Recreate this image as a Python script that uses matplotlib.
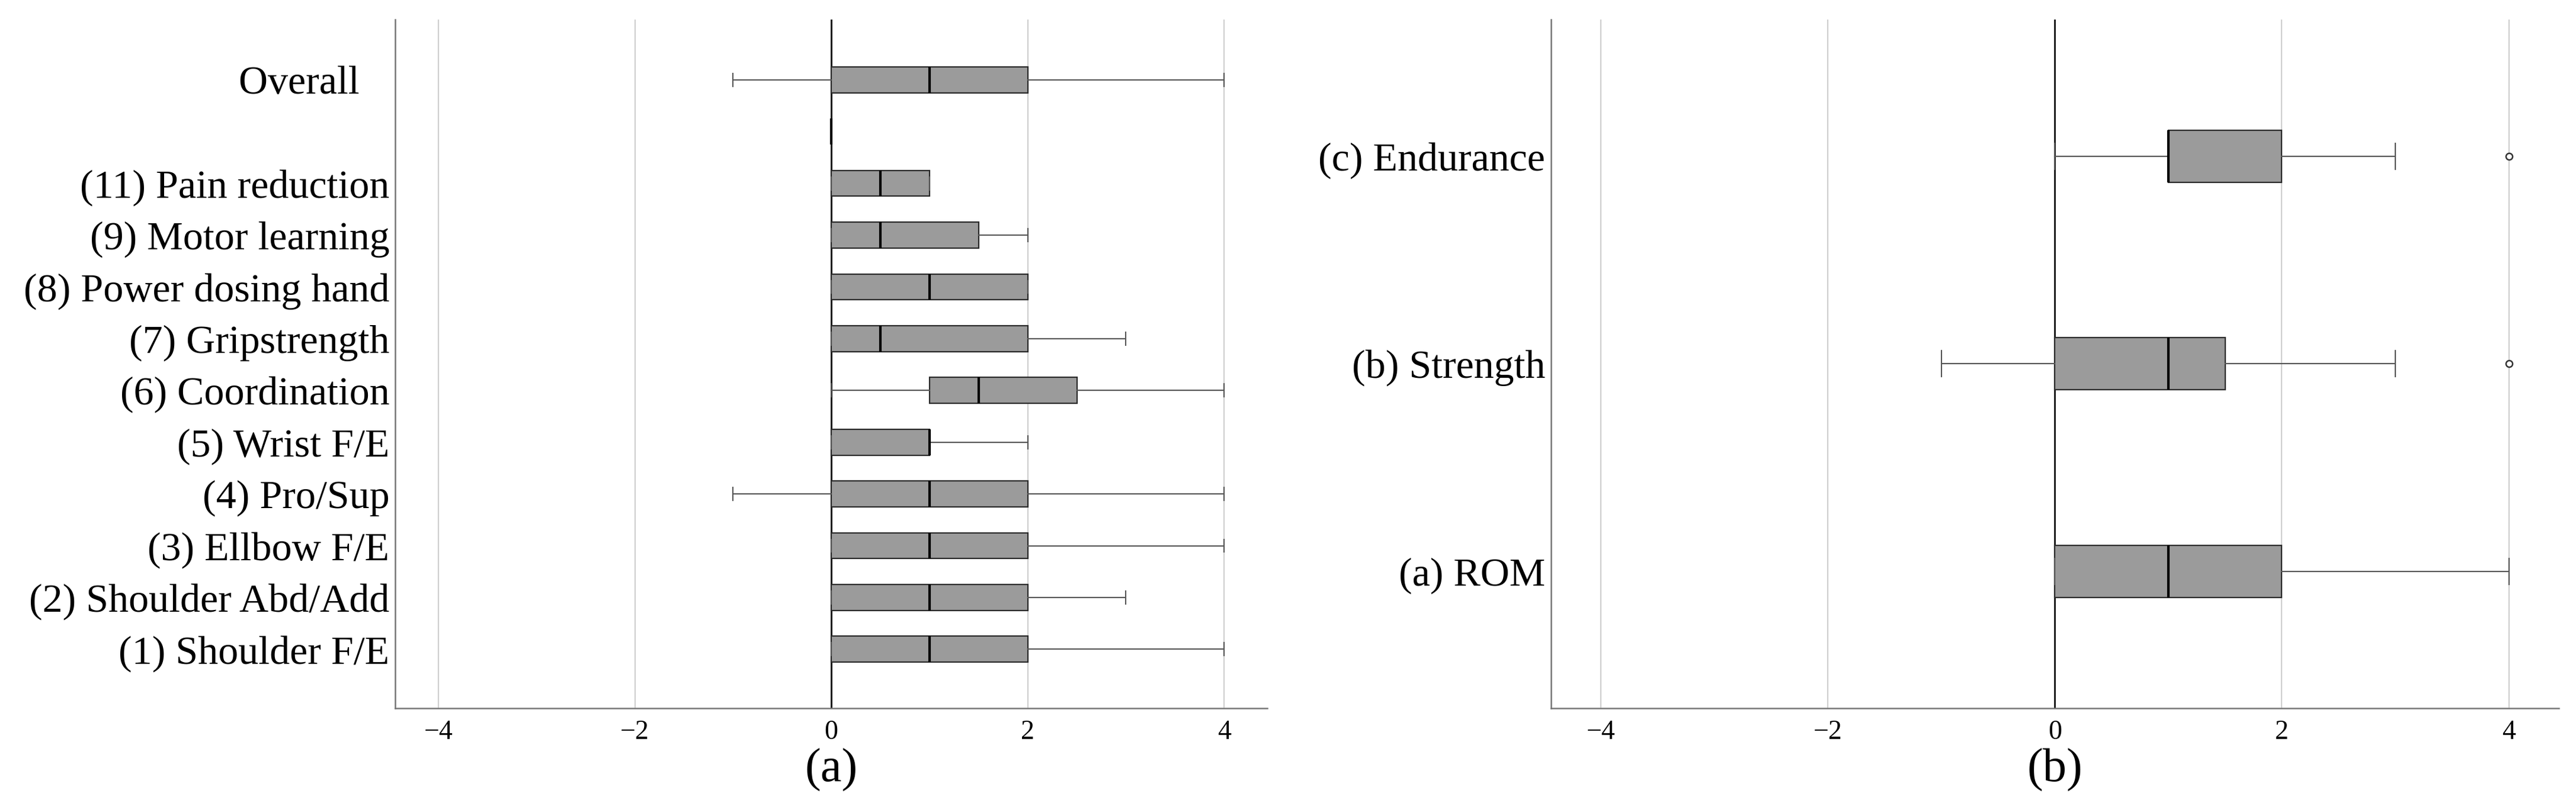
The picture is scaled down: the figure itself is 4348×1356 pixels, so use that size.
import matplotlib
matplotlib.use("Agg")
import matplotlib.pyplot as plt

plt.rcParams['font.family'] = ['Liberation Serif', 'DejaVu Serif']

# panel (a): items, listed bottom to top
items_a = ["(1) Shoulder F/E", "(2) Shoulder Abd/Add", "(3) Ellbow F/E", "(4) Pro/Sup",
           "(5) Wrist F/E", "(6) Coordination", "(7) Gripstrength", "(8) Power dosing hand",
           "(9) Motor learning", "(11) Pain reduction", "", "Overall   "]
lo_a = [0, 0, 0, -1, 0, 0, 0, 0, 0, 0, 0, -1]
q1_a = [0, 0, 0, 0, 0, 1, 0, 0, 0, 0, 0, 0]
med_a = [1, 1, 1, 1, 1, 1.5, 0.5, 1, 0.5, 0.5, 0, 1]
q3_a = [2, 2, 2, 2, 1, 2.5, 2, 2, 1.5, 1, 0, 2]
hi_a = [4, 3, 4, 4, 2, 4, 3, 2, 2, 1, 0, 4]

# panel (b): domains, bottom to top
items_b = ["(a) ROM", "(b) Strength", "(c) Endurance"]
lo_b = [0, -1, 0]
q1_b = [0, 0, 1]
med_b = [1, 1, 1]
q3_b = [2, 1.5, 2]
hi_b = [4, 3, 3]
out_b = [[], [4], [4]]

xticks = [-4, -2, 0, 2, 4]


def make_stats(labels, lo, q1, med, q3, hi, out=None):
    stats = []
    for i in range(len(labels)):
        stats.append({'label': labels[i], 'whislo': lo[i], 'q1': q1[i], 'med': med[i],
                      'q3': q3[i], 'whishi': hi[i], 'fliers': out[i] if out else []})
    return stats


def draw(ax, stats, width, ylim, xlabel):
    ax.set_axisbelow(True)
    ax.grid(axis='x', color='#cfcfcf', linewidth=1.6)
    ax.axvline(0, color='#222222', linewidth=2.2, zorder=2.5)
    ax.bxp(stats, positions=list(range(len(stats))), orientation='horizontal',
           widths=width, capwidths=width / 2, patch_artist=True, showfliers=True,
           boxprops=dict(facecolor='#9b9b9b', edgecolor='#2a2a2a', linewidth=1.6),
           medianprops=dict(color='black', linewidth=3),
           whiskerprops=dict(color='#555555', linewidth=1.5),
           capprops=dict(color='#555555', linewidth=1.5),
           flierprops=dict(marker='o', markerfacecolor='white', markeredgecolor='#333333',
                           markersize=8, markeredgewidth=1.8),
           zorder=3)
    ax.set_xlim(-4.44, 4.44)
    ax.set_ylim(*ylim)
    ax.set_xticks(xticks)
    ax.tick_params(axis='x', length=0, pad=14, labelsize=33)
    ax.tick_params(axis='y', length=0, pad=7, labelsize=49)
    for s in ['top', 'right']:
        ax.spines[s].set_visible(False)
    for s in ['left', 'bottom']:
        ax.spines[s].set_color('#777777')
        ax.spines[s].set_linewidth(1.8)
    ax.set_xlabel(xlabel, fontsize=58, labelpad=4)


fig = plt.figure(figsize=(43.48, 13.56), dpi=100)
ax1 = fig.add_axes([0.1534, 0.118, 0.3386, 0.858])
ax2 = fig.add_axes([0.6021, 0.118, 0.3912, 0.858])

draw(ax1, make_stats(items_a, lo_a, q1_a, med_a, q3_a, hi_a), 0.5, (-1.14, 12.17), "(a)")
draw(ax2, make_stats(items_b, lo_b, q1_b, med_b, q3_b, hi_b, out_b), 0.25, (-0.66, 2.66), "(b)")

fig.savefig("out.png", dpi=100)
